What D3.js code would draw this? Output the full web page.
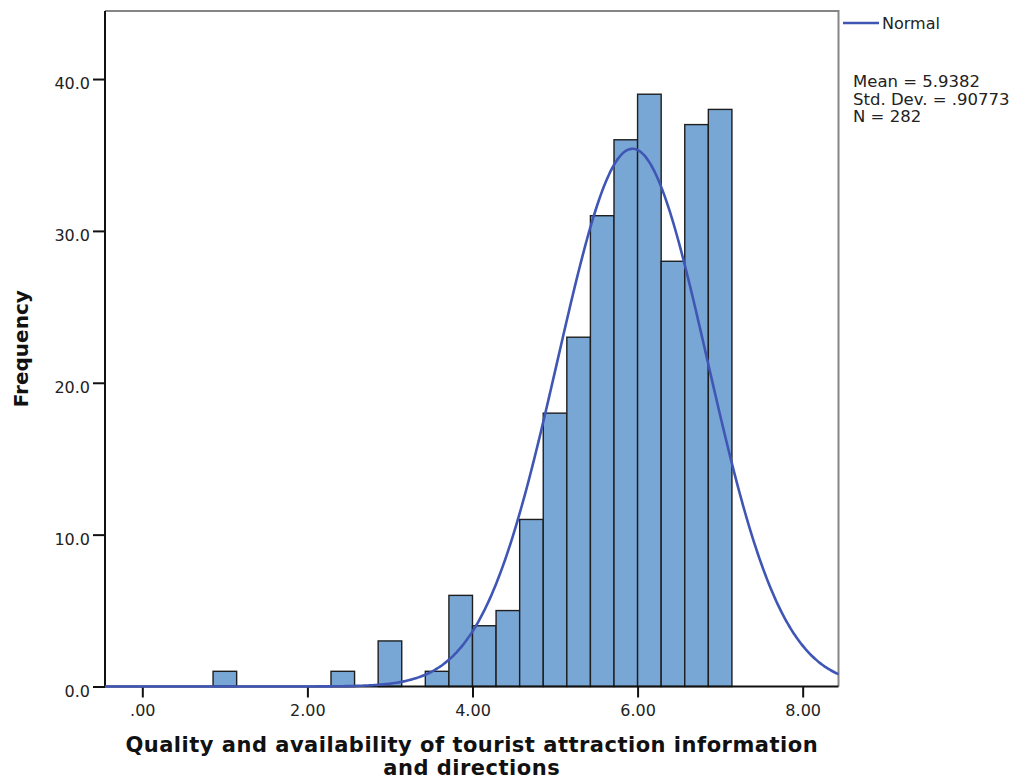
<!DOCTYPE html>
<html>
<head>
<meta charset="utf-8">
<script src="https://cdn.jsdelivr.net/npm/d3@7/dist/d3.min.js"></script>
<style>
  html, body { margin: 0; padding: 0; background: #fff; }
  svg { display: block; }
</style>
</head>
<body>
<svg id="chart" width="1020" height="780"></svg>
<script>
// Histogram bins: 22 bins of width 2/7 starting at 6/7
const binStart = 6 / 7;
const binWidth = 2 / 7;
const frequencies = [1, 0, 0, 0, 0, 1, 0, 3, 0, 1, 6, 4, 5, 11, 18, 23, 31, 36, 39, 28, 37, 38];

// Fitted normal curve parameters
const stats = { mean: 5.9382, sd: 0.90773, n: 282 };

const xTicks = [0, 2, 4, 6, 8];
const xTickLabels = [".00", "2.00", "4.00", "6.00", "8.00"];
const yTicks = [0, 10, 20, 30, 40];
const yTickLabels = ["0.0", "10.0", "20.0", "30.0", "40.0"];

const legendLines = ["Mean = 5.9382", "Std. Dev. = .90773", "N = 282"];
const xTitleLines = ["Quality and availability of tourist attraction information", "and directions"];
const yTitle = "Frequency";

const plot = { left: 105, right: 838.5, top: 11, bottom: 686.5 };
const labelFont = "'DejaVu Sans', sans-serif";

const svg = d3.select("#chart");

const x = d3.scaleLinear().domain([-0.452, 8.434]).range([plot.left, plot.right]);
const y = d3.scaleLinear().domain([0, 44.48]).range([plot.bottom, plot.top]);

// Bars
const bins = frequencies.map((f, i) => ({
  x0: binStart + i * binWidth,
  x1: binStart + (i + 1) * binWidth,
  f
})).filter(b => b.f > 0);

svg.append("g")
  .selectAll("rect")
  .data(bins)
  .join("rect")
  .attr("x", d => x(d.x0))
  .attr("y", d => y(d.f))
  .attr("width", d => x(d.x1) - x(d.x0))
  .attr("height", d => y(0) - y(d.f))
  .attr("fill", "#79a7d5")
  .attr("stroke", "#1e1e1e")
  .attr("stroke-width", 1.4);

// Frame: grey top and right edges
svg.append("path")
  .attr("d", `M${plot.left},${plot.top}H${plot.right}V${plot.bottom}`)
  .attr("fill", "none")
  .attr("stroke", "#858585")
  .attr("stroke-width", 2);

// Y axis
const yAxis = d3.axisLeft(y)
  .tickValues(yTicks)
  .tickFormat((d, i) => yTickLabels[i])
  .tickSize(12)
  .tickSizeOuter(0)
  .tickPadding(3);
const gy = svg.append("g")
  .attr("transform", `translate(${plot.left},0)`)
  .call(yAxis);
gy.select(".domain").attr("d", `M0,${plot.top}V${plot.bottom}`).attr("stroke", "#111").attr("stroke-width", 2);
gy.selectAll(".tick line").attr("stroke", "#111").attr("stroke-width", 2);
gy.selectAll(".tick text")
  .attr("font-family", labelFont)
  .attr("font-size", 16)
  .attr("fill", "#222")
  .attr("dy", "0.62em");

// X axis
const xAxis = d3.axisBottom(x)
  .tickValues(xTicks)
  .tickFormat((d, i) => xTickLabels[i])
  .tickSize(11)
  .tickSizeOuter(0)
  .tickPadding(7);
const gx = svg.append("g")
  .attr("transform", `translate(0,${plot.bottom})`)
  .call(xAxis);
gx.select(".domain").attr("d", `M${plot.left},0H${plot.right}`).attr("stroke", "#111").attr("stroke-width", 2);
gx.selectAll(".tick line").attr("stroke", "#111").attr("stroke-width", 2);
gx.selectAll(".tick text")
  .attr("font-family", labelFont)
  .attr("font-size", 16)
  .attr("fill", "#222");

// Normal curve scaled to counts per bin
const scaleFactor = stats.n * binWidth / (stats.sd * Math.sqrt(2 * Math.PI));
const density = v => scaleFactor * Math.exp(-0.5 * Math.pow((v - stats.mean) / stats.sd, 2));
const [dx0, dx1] = x.domain();
const curvePts = d3.range(0, 401).map(i => {
  const v = dx0 + (dx1 - dx0) * i / 400;
  return [v, density(v)];
});
svg.append("path")
  .datum(curvePts)
  .attr("fill", "none")
  .attr("stroke", "#3f56b5")
  .attr("stroke-width", 2.6)
  .attr("d", d3.line().x(d => x(d[0])).y(d => y(d[1])).curve(d3.curveBasis));

// Axis titles
svg.append("text")
  .attr("x", (plot.left + plot.right) / 2)
  .attr("text-anchor", "middle")
  .attr("font-family", labelFont)
  .attr("font-weight", "bold")
  .attr("font-size", 21)
  .attr("letter-spacing", 0.5)
  .attr("fill", "#111")
  .selectAll("tspan")
  .data(xTitleLines)
  .join("tspan")
  .attr("x", (plot.left + plot.right) / 2)
  .attr("y", (d, i) => 752 + i * 23)
  .text(d => d);

svg.append("text")
  .attr("transform", `translate(28,${(plot.top + plot.bottom) / 2}) rotate(-90)`)
  .attr("text-anchor", "middle")
  .attr("font-family", labelFont)
  .attr("font-weight", "bold")
  .attr("font-size", 20)
  .attr("fill", "#111")
  .text(yTitle);

// Legend
const legend = svg.append("g");
legend.append("line")
  .attr("x1", 843).attr("x2", 879)
  .attr("y1", 23).attr("y2", 23)
  .attr("stroke", "#3f56b5")
  .attr("stroke-width", 2.6);
legend.append("text")
  .attr("x", 882).attr("y", 29)
  .attr("font-family", labelFont)
  .attr("font-size", 16)
  .attr("fill", "#222")
  .text("Normal");
legend.append("text")
  .attr("font-family", labelFont)
  .attr("font-size", 16.5)
  .attr("fill", "#222")
  .selectAll("tspan")
  .data(legendLines)
  .join("tspan")
  .attr("x", 853)
  .attr("y", (d, i) => 87 + i * 17.5)
  .text(d => d);
</script>
</body>
</html>
